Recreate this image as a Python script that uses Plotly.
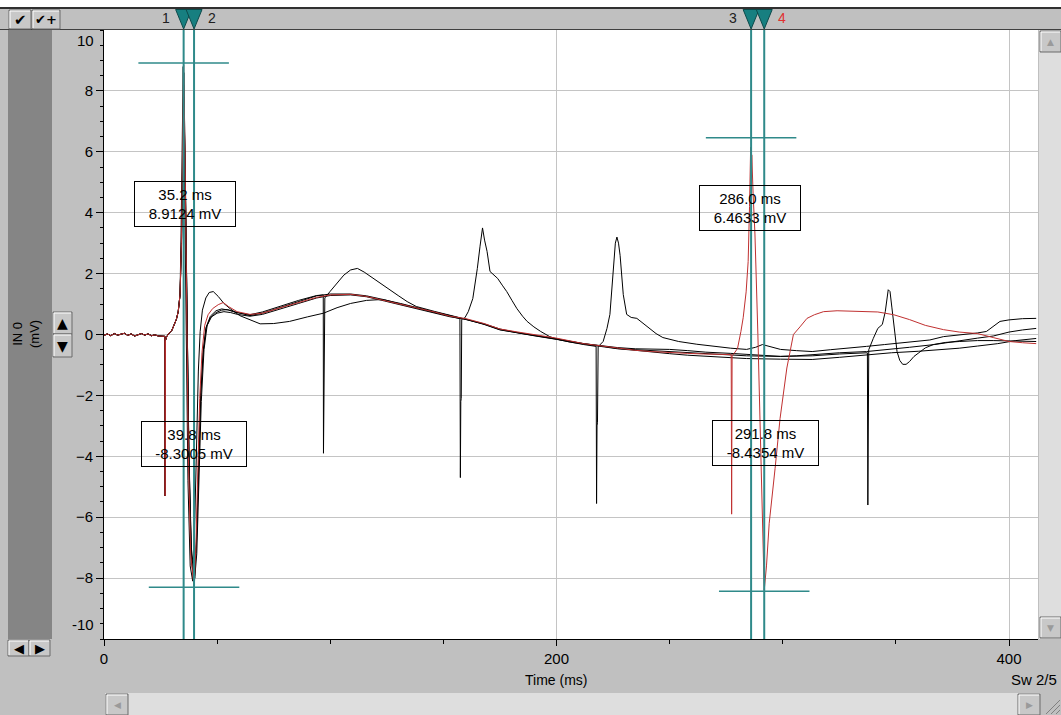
import plotly.graph_objects as go

# ---------------- data ----------------
# shared baseline, first stimulus artefact and rising phase (all 5 sweeps)
HEAD = [(0, -0.03), (1.5, 0.02), (3, -0.04), (4.5, 0.03), (6, -0.02), (7.5, 0.01), (9, 0.04),
        (10.5, -0.03), (12, 0.02), (13.5, -0.05), (15, 0.0), (16.5, 0.03), (18, -0.02),
        (19.5, 0.02), (21, -0.04), (22.5, -0.01), (24, -0.05), (25.5, -0.06), (26.9, -0.06),
        (27.0, -5.3), (27.15, -0.2), (27.7, -0.07), (28.8, 0.05), (29.9, 0.12), (31.0, 0.3),
        (32.0, 0.5), (32.8, 0.75), (33.6, 1.3)]

# sweep with second stimulus at ~97 ms
SWEEP_A = [(34.3, 3.2), (34.9, 7.0), (35.3, 8.6), (35.9, 5.5), (36.7, 0.5), (37.6, -4.5), (38.7, -7.5),
           (40.0, -8.1), (40.9, -6.8), (41.8, -4.3), (42.8, -1.9), (43.9, -0.5), (45.2, 0.25),
           (47, 0.6), (49.5, 0.78), (52, 0.84), (55, 0.8), (58.8, 0.72), (64.5, 0.65), (70, 0.74),
           (79, 0.95), (86, 1.12), (94, 1.28), (96.9, 1.3), (97.0, -3.9), (97.2, -1.7), (97.4, -1.6),
           (97.6, 1.2), (100, 1.42), (103, 1.67), (106, 1.95), (109, 2.12), (112, 2.17), (115, 2.05),
           (119, 1.84), (122.5, 1.65), (126.5, 1.47), (130, 1.28), (134, 1.08), (138, 0.92),
           (146, 0.76), (153, 0.62), (160, 0.5), (168, 0.35), (175, 0.18), (183, 0.06), (190, -0.02),
           (200, -0.14), (212, -0.3), (220, -0.37), (227, -0.43), (235, -0.47), (242, -0.48),
           (250, -0.49), (258, -0.53), (266, -0.58), (277, -0.62), (288, -0.68), (299, -0.72),
           (306, -0.7), (313, -0.66), (325, -0.6), (337, -0.56), (346, -0.5), (356, -0.42),
           (367, -0.33), (378, -0.2), (386, -0.12), (393, -0.05), (400, 0.08), (406, 0.15), (412, 0.2)]

# sweep with second stimulus at ~157 ms
SWEEP_B = [(34.2, 2.8), (34.8, 6.2), (35.2, 8.2), (35.8, 5.8), (36.6, 1.2), (37.5, -3.8), (38.6, -7.0),
           (39.9, -7.9), (40.8, -6.9), (41.7, -4.5), (42.7, -2.0), (43.8, -0.6), (45, 0.2), (47, 0.55),
           (49.5, 0.72), (52, 0.8), (54.5, 0.82), (58, 0.74), (64.5, 0.62), (70, 0.7), (79, 0.92),
           (86, 1.1), (94, 1.27), (100, 1.33), (109, 1.33), (116, 1.27), (124, 1.14), (131, 1.0),
           (138, 0.88), (146, 0.74), (153, 0.6), (157.3, 0.52), (157.5, -4.7), (157.7, -2.2),
           (157.9, -2.1), (158.1, 0.5), (159.5, 0.55), (161, 0.75), (163, 1.18), (164.2, 1.7),
           (165, 2.17), (166.2, 2.9), (167.3, 3.5), (168.2, 3.1), (169.3, 2.73), (170.6, 2.07),
           (172.3, 1.95), (174, 1.84), (176, 1.62), (178, 1.41), (180.3, 1.12), (182.5, 0.85),
           (185, 0.6), (187, 0.43), (190, 0.25), (193, 0.1), (197, -0.07), (200, -0.15), (206, -0.25),
           (212, -0.32), (220, -0.4), (227, -0.47), (235, -0.52), (242, -0.58), (250, -0.63),
           (258, -0.68), (270, -0.74), (284, -0.79), (299, -0.81), (313, -0.82), (325, -0.75),
           (337, -0.66), (348, -0.6), (360, -0.55), (370, -0.5), (378, -0.45), (386, -0.38),
           (395, -0.3), (403, -0.2), (412, -0.13)]

# sweep with second stimulus at ~218 ms
SWEEP_C = [(34.1, 3.5), (34.7, 7.5), (35.0, 8.8), (35.6, 5.0), (36.3, 0.0), (37.1, -4.8), (38.1, -7.6),
           (39.2, -8.1), (40.0, -6.5), (40.8, -3.8), (41.7, -1.2), (42.5, 0.1), (43.5, 0.8), (45, 1.2),
           (46.5, 1.38), (48.3, 1.41), (50.5, 1.25), (53, 1.02), (55.7, 0.85), (60, 0.62),
           (64.5, 0.49), (69, 0.35), (75, 0.36), (82, 0.43), (90, 0.58), (97, 0.7), (103, 0.88),
           (109, 1.02), (116, 1.12), (123, 1.15), (131, 1.02), (138, 0.88), (146, 0.74), (153, 0.62),
           (160, 0.5), (168, 0.34), (175, 0.16), (183, 0.04), (190, -0.04), (200, -0.16), (207, -0.27),
           (212, -0.33), (217.5, -0.39), (217.7, -5.55), (217.9, -3.0), (218.1, -2.9), (218.4, -0.4),
           (220.6, -0.23), (222.3, 0.2), (223.6, 0.66), (224.4, 1.5), (225.1, 2.3), (226.0, 3.0),
           (226.7, 3.2), (227.4, 3.0), (228.1, 2.6), (228.8, 1.9), (229.5, 1.31), (231, 0.66),
           (233, 0.56), (235.5, 0.53), (238, 0.38), (241, 0.2), (244, 0.03), (247, -0.1),
           (250, -0.16), (254, -0.23), (262, -0.32), (269, -0.39), (277, -0.45), (284, -0.49),
           (288, -0.42), (291, -0.33), (295, -0.42), (299, -0.49), (306, -0.53), (313, -0.56),
           (321, -0.5), (328, -0.46), (337, -0.39), (345, -0.33), (356, -0.25), (365, -0.18),
           (371, -0.07), (378, -0.02), (386, 0.05), (390, 0.1), (393, 0.28), (396, 0.43),
           (400, 0.48), (406, 0.52), (412, 0.53)]

# sweep with second stimulus at ~338 ms
SWEEP_D = [(34.3, 3.0), (34.9, 6.8), (35.3, 7.8), (35.9, 5.2), (36.7, 0.8), (37.6, -4.2), (38.6, -7.2),
           (40.1, -8.0), (41.0, -7.2), (41.9, -4.9), (43.0, -2.2), (44.2, -0.5), (45.6, 0.3),
           (47.5, 0.58), (50, 0.7), (53, 0.75), (56, 0.72), (59, 0.66), (64.5, 0.6), (70, 0.66),
           (79, 0.85), (86, 1.02), (94, 1.2), (100, 1.28), (109, 1.3), (116, 1.24), (124, 1.1),
           (131, 0.98), (138, 0.86), (146, 0.72), (153, 0.58), (160, 0.5), (168, 0.33), (175, 0.15),
           (183, 0.05), (190, -0.03), (200, -0.14), (212, -0.3), (220, -0.38), (227, -0.46),
           (235, -0.5), (242, -0.53), (250, -0.55), (260, -0.6), (270, -0.65), (284, -0.7),
           (299, -0.72), (313, -0.7), (325, -0.64), (337.4, -0.6), (337.6, -5.6), (337.8, -3.5),
           (338.0, -0.5), (340, -0.13), (342, 0.2), (344, 0.33), (345.3, 0.75), (346.6, 1.47),
           (347.4, 1.41), (348.2, 0.9), (348.8, 0.53), (349.7, 0.0), (350.5, -0.56), (351.7, -0.85),
           (353, -0.98), (354.5, -0.98), (356, -0.89), (358, -0.72), (360.6, -0.56), (363, -0.44),
           (366.5, -0.33), (372, -0.26), (378, -0.23), (386, -0.2), (393, -0.2), (400, -0.22),
           (406, -0.23), (412, -0.23)]

# highlighted sweep (2/5), second stimulus at ~277 ms
SWEEP_RED = [(34.2, 3.0), (34.8, 6.5), (35.2, 8.85), (35.8, 6.0), (36.5, 1.0), (37.3, -4.0), (38.3, -7.2),
             (39.8, -8.3), (40.6, -7.0), (41.4, -4.6), (42.3, -2.1), (43.3, -0.6), (44.5, 0.3),
             (46, 0.65), (48, 0.85), (50.5, 0.98), (52.7, 1.05), (55, 0.92), (58.8, 0.75),
             (64.5, 0.66), (70, 0.7), (79, 0.9), (86, 1.05), (94, 1.22), (100, 1.3), (109, 1.32),
             (116, 1.25), (124, 1.12), (131, 1.0), (138, 0.88), (146, 0.74), (153, 0.6), (160, 0.52),
             (168, 0.36), (175, 0.18), (183, 0.08), (190, 0.0), (200, -0.12), (212, -0.3),
             (220, -0.38), (227, -0.46), (235, -0.52), (242, -0.56), (250, -0.6), (258, -0.62),
             (265, -0.64), (272, -0.66), (277.2, -0.66), (277.4, -5.9), (277.6, -0.7), (278.5, -0.62),
             (280, -0.46), (281.5, 0.1), (282.5, 0.55), (283.8, 1.4), (284.7, 2.4), (285.3, 4.2),
             (285.8, 6.15), (286.1, 4.9), (286.3, 5.9), (286.9, 4.6), (287.7, 3.3), (289, 0.0),
             (290, -3.3), (291, -6.5), (291.8, -8.4), (292.8, -7.6), (294, -6.2), (296.6, -4.4),
             (298.8, -2.76), (301.8, -1.1), (304.7, 0.0), (307.6, 0.25), (310.7, 0.53), (314, 0.65),
             (318, 0.75), (324, 0.78), (334, 0.75), (342, 0.74), (349, 0.65), (356, 0.49), (363, 0.3),
             (371, 0.16), (378, 0.08), (386, 0.03), (393, -0.1), (400, -0.23), (406, -0.27),
             (412, -0.3)]

CURSOR_T = [35.2, 39.8, 286.0, 291.8]
CURSOR_V = [8.9124, -8.3005, 6.4633, -8.4354]
CURSOR_NAMES = ["1", "2", "3", "4"]

X_TICKS = [0, 200, 400]
Y_TICKS = [-8, -6, -4, -2, 0, 2, 4, 6, 8]

# ---------------- layout constants ----------------
W, H = 1061, 715
L, R, T, B = 104, 1038, 30, 639
X_MAX = 412.8
PX_PER_MS = (R - L) / X_MAX
GREY = "#c0c0c0"
TEAL = "#2f8a8a"
FONT = "Liberation Sans"

# label boxes: (x, y) in data units, box width px
LABEL_POS = [(35.8, 4.27, 98), (39.6, -3.58, 102), (285.5, 4.15, 98), (292.2, -3.56, 103)]


def px(x):
    return (x - L) / (R - L)


def py(y):
    return (B - y) / (B - T)


shapes = []
annotations = []


def rect(x0, y0, x1, y1, fill, line=None, lw=0):
    shapes.append(dict(type="rect", xref="paper", yref="paper", x0=px(x0), x1=px(x1),
                       y0=py(y1), y1=py(y0), fillcolor=fill,
                       line=dict(color=line or fill, width=lw), layer="above"))


def hline(x0, x1, y, color, w=1):
    shapes.append(dict(type="line", xref="paper", yref="paper", x0=px(x0), x1=px(x1),
                       y0=py(y), y1=py(y), line=dict(color=color, width=w), layer="above"))


def vline(x, y0, y1, color, w=1):
    shapes.append(dict(type="line", xref="paper", yref="paper", x0=px(x), x1=px(x),
                       y0=py(y0), y1=py(y1), line=dict(color=color, width=w), layer="above"))


def text(x, y, s, size=15, color="black", xanchor="center", family=FONT, angle=0):
    annotations.append(dict(xref="paper", yref="paper", x=px(x), y=py(y), text=s,
                            showarrow=False, xanchor=xanchor, yanchor="middle",
                            textangle=angle, font=dict(family=family, size=size, color=color)))


def button(x0, y0, x1, y1, glyph, size=12, color="black"):
    rect(x0, y0, x1, y1, "#c8c8c8", "#6a6a6a", 1)
    hline(x0 + 1, x1 - 1, y0 + 1, "#ffffff", 1)
    vline(x0 + 1, y0 + 1, y1 - 1, "#ffffff", 1)
    text((x0 + x1) / 2, (y0 + y1) / 2, glyph, size=size, color=color, family="DejaVu Sans")


# ---------------- window chrome ----------------
rect(0, 0, W, 7, "white")
rect(0, 7, W, 9, "#303030")
hline(0, W, 29.5, "#404040", 1)
button(9, 10, 31, 29, "<b>✔</b>", 15)
button(32, 10, 60, 29, "<b>✔+</b>", 13)
rect(8, 30, 52, 639, "#858585")
text(26, 334, "IN 0<br>(mV)", size=13, angle=-90)
button(53, 312, 72, 334, "▲", 14)
button(53, 334, 72, 357, "▼", 14)
button(8, 640, 29, 656, "◀", 13)
button(29, 640, 50, 656, "▶", 13)
# vertical scroll bar
rect(1039, 30, W, 639, "#dedede")
button(1040, 31, W, 52, "▲", 9, "#9a9a9a")
button(1040, 617, W, 638, "▼", 9, "#9a9a9a")
# horizontal scroll bar
rect(105, 693, 1040, H, "#dedede")
button(106, 694, 128, H, "◀", 9, "#9a9a9a")
button(1018, 694, 1040, H, "▶", 9, "#9a9a9a")
for k in range(3):
    shapes.append(dict(type="line", xref="paper", yref="paper", x0=px(1046 + 5 * k), x1=px(1060),
                       y0=py(714), y1=py(700 + 5 * k), line=dict(color="#808080", width=1),
                       layer="above"))
text(556, 680, "Time (ms)", size=14)
text(1009, 679, "Sw 2/5", size=15, xanchor="left")
text(96, 41, "10", size=15, xanchor="right")
text(96, 624, "-10", size=15, xanchor="right")

# ---------------- traces ----------------
fig = go.Figure()
for sweep in (SWEEP_A, SWEEP_B, SWEEP_C, SWEEP_D, SWEEP_RED):
    pts = HEAD + sweep
    colour = "#c03030" if sweep is SWEEP_RED else "black"
    fig.add_trace(go.Scatter(x=[p[0] for p in pts], y=[p[1] for p in pts], mode="lines",
                             line=dict(color=colour, width=1), hoverinfo="skip",
                             showlegend=False))

# ---------------- cursors ----------------
half = 8 / PX_PER_MS
for i, (t, v) in enumerate(zip(CURSOR_T, CURSOR_V)):
    shapes.append(dict(type="line", xref="x", yref="paper", x0=t, x1=t, y0=0, y1=1,
                       line=dict(color=TEAL, width=2), layer="above"))
    shapes.append(dict(type="line", xref="x", yref="y", x0=t - 20, x1=t + 20, y0=v, y1=v,
                       line=dict(color=TEAL, width=1.5), layer="above"))
    shapes.append(dict(type="path", xref="x", yref="paper",
                       path=f"M {t - half},{py(9.5)} L {t + half},{py(9.5)} L {t},{py(29)} Z",
                       fillcolor="#177f80", line=dict(color="#0c4a4a", width=1), layer="above"))
    annotations.append(dict(xref="x", yref="paper", x=t, y=py(18), text=CURSOR_NAMES[i],
                            showarrow=False, xshift=-18 if i % 2 == 0 else 18,
                            xanchor="center", yanchor="middle",
                            font=dict(family=FONT, size=14,
                                      color="#e03030" if i == 3 else "#202020")))
    lx, ly, bw = LABEL_POS[i]
    annotations.append(dict(xref="x", yref="y", x=lx, y=ly,
                            text=f"{t:.1f} ms<br>{v:.4f} mV", showarrow=False,
                            width=bw, height=42, align="center", bordercolor="black",
                            borderwidth=1, borderpad=1, bgcolor="rgba(0,0,0,0)",
                            font=dict(family=FONT, size=15, color="black")))

fig.update_layout(
    width=W, height=H, margin=dict(l=L, r=W - R, t=T, b=H - B, pad=0),
    paper_bgcolor=GREY, plot_bgcolor="white", showlegend=False,
    shapes=shapes, annotations=annotations,
    xaxis=dict(range=[0, X_MAX], tickvals=X_TICKS, ticks="outside", ticklen=6, tickcolor="black",
               showgrid=True, gridcolor="#c4c4c4", gridwidth=1, zeroline=False,
               showline=True, linecolor="black", linewidth=1,
               tickfont=dict(family=FONT, size=15, color="black"),
               minor=dict(tickvals=list(range(0, 401, 50)), ticks="outside", ticklen=4,
                          tickcolor="black", showgrid=False)),
    yaxis=dict(range=[-10, 10], tickvals=Y_TICKS, ticks="outside", ticklen=7, tickcolor="black",
               showgrid=True, gridcolor="#c4c4c4", gridwidth=1, zeroline=False,
               showline=True, linecolor="black", linewidth=1,
               tickfont=dict(family=FONT, size=15, color="black"),
               minor=dict(tickvals=[k * 0.5 for k in range(-20, 21)], ticks="outside",
                          ticklen=3, tickcolor="black", showgrid=False)),
)

fig.write_html("out.html", config={"displayModeBar": False},
               post_script="document.body.style.margin='0px';document.body.style.overflow='hidden';")
